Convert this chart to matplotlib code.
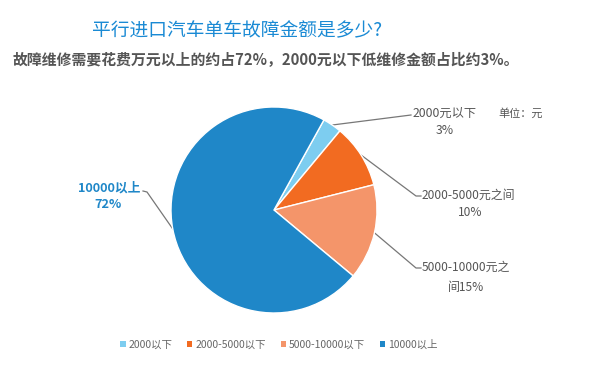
import numpy as np
import matplotlib
matplotlib.use("Agg")
import matplotlib.pyplot as plt

plt.rcParams['font.family'] = ['Noto Sans CJK SC', 'DejaVu Sans']

categories = ['2000以下', '2000-5000以下', '5000-10000以下', '10000以上']
values = [3, 10, 15, 72]
colors = ['#7dcdf0', '#f26b21', '#f4956a', '#1f87c8']
slice_labels = ['2000元以下\n3%', '2000-5000元之间\n10%', '5000-10000元之\n间15%', '10000以上\n72%']

title = '平行进口汽车单车故障金额是多少?'
subtitle = '故障维修需要花费万元以上的约占72%，2000元以下低维修金额占比约3%。'

W, H = 600, 366
fig = plt.figure(figsize=(W / 100, H / 100), dpi=100)

def fx(x):
    return x / W

def fy(y):
    return 1 - y / H

cx, cy, r = 274, 210, 103
ax = fig.add_axes([fx(cx - r), fy(cy + r), 2 * r / W, 2 * r / H])
wedges, _ = ax.pie(values, colors=colors, startangle=61, counterclock=False,
                   wedgeprops=dict(edgecolor='white', linewidth=1.0))
ax.set_aspect('equal')
ax.set_xlim(-1, 1)
ax.set_ylim(-1, 1)
ax.axis('off')

# overlay axes in pixel coordinates
ov = fig.add_axes([0, 0, 1, 1], zorder=-1)
ov.set_xlim(0, W)
ov.set_ylim(H, 0)
ov.axis('off')
ov.patch.set_alpha(0)

# leader line endpoints and label positions (pixels)
line_ends = [[(411, 115)], [(416, 196), (421, 196)], [(416, 268), (421, 268)], [(147, 192), (143, 191)]]
first_pos = [(413, 113, 'left'), (422, 195, 'left'), (422, 267, 'left'), (140, 188, 'right')]
second_pos = [(445, 130), (470, 212), (466, 288), (108, 205)]
label_colors = ['#555555', '#555555', '#555555', '#1f87c8']
label_sizes = [8.8, 8.6, 8.6, 9.2]

for w, ends, (lx, ly, ha), (sx2, sy2), lc, fs, txt in zip(wedges, line_ends, first_pos, second_pos,
                                                         label_colors, label_sizes, slice_labels):
    mid = np.deg2rad((w.theta1 + w.theta2) / 2)
    sx = cx + r * np.cos(mid)
    sy = cy - r * np.sin(mid)
    xs = [sx] + [e[0] for e in ends]
    ys = [sy] + [e[1] for e in ends]
    ov.plot(xs, ys, color='#777777', lw=0.9, zorder=0)
    first, second = txt.split('\n')
    weight = 'bold' if lc != '#555555' else 'normal'
    ov.text(lx, ly, first, ha=ha, va='center', fontsize=fs, color=lc, fontweight=weight)
    ov.text(sx2, sy2, second, ha='center', va='center', fontsize=fs, color=lc, fontweight=weight)

ov.text(498, 113, '单位：元', ha='left', va='center', fontsize=8, color='#555555')

fig.text(fx(237), fy(31), title, ha='center', va='center', fontsize=13.5, color='#1a8ad4')
fig.text(fx(13), fy(60), subtitle, ha='left', va='center', fontsize=10.7, color='#555555',
         fontweight='bold')

leg = fig.legend(wedges, categories, loc='center', bbox_to_anchor=(fx(279), fy(345)), ncol=4,
                 frameon=False, handlelength=0.5, handleheight=0.5, handletextpad=0.3,
                 columnspacing=1.4, fontsize=7.5, labelcolor='#666666')
for h in leg.legend_handles:
    h.set_edgecolor('none')

fig.savefig('out.png', dpi=100)
